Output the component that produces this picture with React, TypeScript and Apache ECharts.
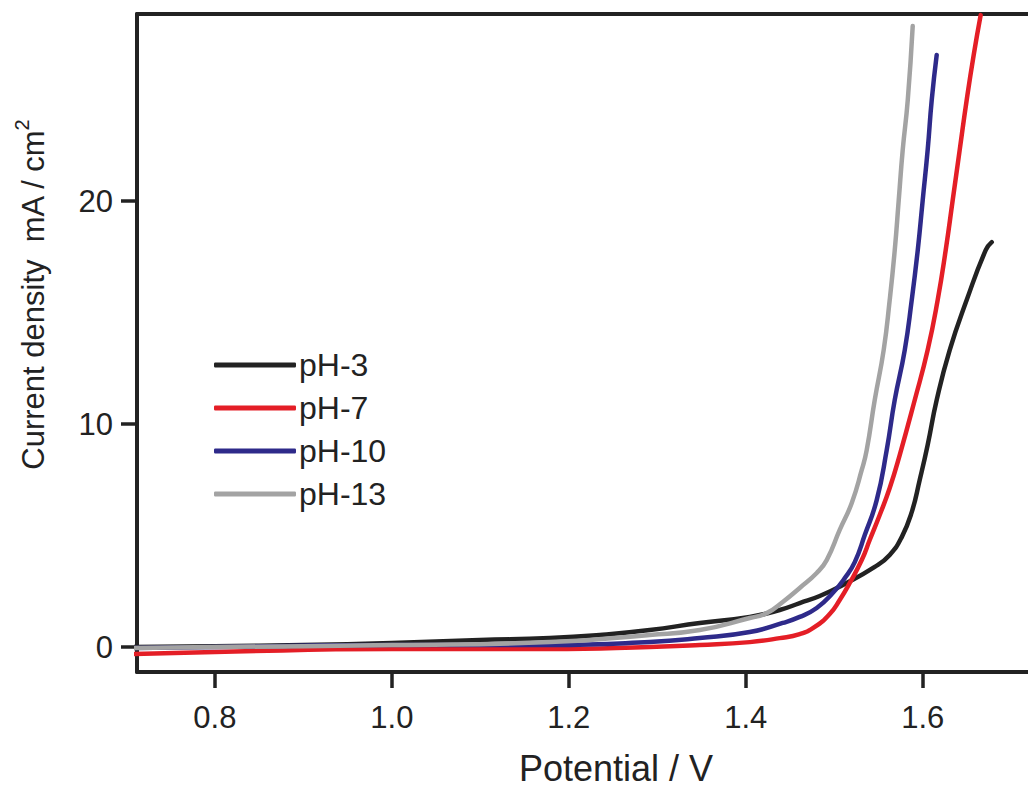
import React, { useEffect, useRef } from "react";
import * as echarts from "echarts";

const seriesNames = ["pH-3", "pH-7", "pH-10", "pH-13"];
const seriesColors = ["#222222", "#e41e26", "#2e2a8a", "#a3a3a3"];

const pH3V = [0.7073, 0.8, 0.8994, 1.0, 1.0994, 1.1785, 1.235, 1.2915, 1.348, 1.4045, 1.4384, 1.461, 1.4836, 1.5119, 1.5458, 1.5627, 1.5763, 1.5876, 1.5966, 1.6056, 1.6158, 1.6305, 1.6497, 1.6712, 1.678];
const pH3J = [0.0, 0.04, 0.09, 0.18, 0.31, 0.4, 0.54, 0.76, 1.08, 1.35, 1.66, 1.97, 2.29, 2.83, 3.59, 4.13, 4.93, 6.05, 7.49, 9.06, 11.08, 13.32, 15.56, 17.8, 18.16];

const pH7V = [0.7073, 0.8, 1.0, 1.1785, 1.2915, 1.348, 1.4045, 1.4384, 1.461, 1.478, 1.4949, 1.5062, 1.5175, 1.5311, 1.5401, 1.5514, 1.5627, 1.574, 1.591, 1.6056, 1.6169, 1.626, 1.6339, 1.6418, 1.6497, 1.6576, 1.6655];
const pH7J = [-0.31, -0.22, -0.09, -0.09, 0.0, 0.09, 0.22, 0.4, 0.58, 0.9, 1.48, 2.11, 2.87, 3.9, 4.8, 5.92, 7.13, 8.61, 11.08, 13.32, 15.56, 17.8, 20.04, 22.29, 24.53, 26.55, 28.34];

const pH10V = [0.7073, 0.8, 1.0, 1.1785, 1.2915, 1.348, 1.4045, 1.4418, 1.461, 1.4802, 1.4983, 1.5119, 1.5232, 1.5345, 1.548, 1.5593, 1.5684, 1.5797, 1.5876, 1.5944, 1.6, 1.6056, 1.6102, 1.6158];
const pH10J = [-0.04, 0.0, 0.09, 0.09, 0.22, 0.4, 0.67, 1.08, 1.35, 1.75, 2.42, 3.09, 3.81, 5.02, 6.59, 8.83, 11.08, 13.32, 15.56, 17.8, 20.04, 22.29, 24.53, 26.55];

const pH13V = [0.7073, 0.8, 1.0, 1.1785, 1.2915, 1.348, 1.4045, 1.4237, 1.4418, 1.461, 1.4802, 1.4915, 1.5062, 1.5198, 1.5311, 1.5367, 1.5458, 1.5559, 1.5627, 1.5684, 1.5729, 1.5774, 1.5831, 1.5887];
const pH13J = [-0.04, 0.0, 0.09, 0.22, 0.54, 0.76, 1.3, 1.52, 2.02, 2.65, 3.32, 3.9, 5.25, 6.46, 7.94, 8.83, 11.08, 13.32, 15.56, 17.8, 20.04, 22.29, 24.53, 27.85];

const xTicks = [0.8, 1.0, 1.2, 1.4, 1.6];
const yTicks = [0, 10, 20];

const xTitle = "Potential / V";
const yTitle = "Current density  mA / cm";
const yTitleSup = "2";

const allV = [pH3V, pH7V, pH10V, pH13V];
const allJ = [pH3J, pH7J, pH10J, pH13J];

const FONT = "'Liberation Sans', Arial, Helvetica, sans-serif";
const INK = "#222222";
const X_MIN = 0.712;
const X_MAX = 1.719;

export default function App() {
  const ref = useRef<HTMLDivElement>(null);
  useEffect(() => {
    if (!ref.current) return;
    const chart = echarts.init(ref.current, null, { renderer: "svg" });
    const series = seriesNames.map((name, i) => ({
      name,
      type: "line",
      xAxisIndex: 0,
      yAxisIndex: 0,
      data: allV[i].map((v, k) => [v, allJ[i][k]]),
      symbol: "none",
      smooth: 0.5,
      z: 2 + i,
      lineStyle: { color: seriesColors[i], width: 4.5, cap: "round", join: "round" },
      itemStyle: { color: seriesColors[i] },
    }));
    chart.setOption({
      animation: false,
      backgroundColor: "#ffffff",
      textStyle: { fontFamily: FONT },
      grid: {
        left: 137,
        right: 0,
        top: 14,
        bottom: 115,
        show: false,
      },
      xAxis: [
        {
          type: "value",
          position: "bottom",
          min: X_MIN,
          max: X_MAX,
          axisLine: { show: true, onZero: false, lineStyle: { color: INK, width: 4 } },
          axisTick: { show: true, inside: false, length: 16, lineStyle: { color: INK, width: 3.5 }, customValues: xTicks },
          axisLabel: {
            customValues: xTicks,
            formatter: (v: number) => v.toFixed(1),
            color: INK,
            fontSize: 31,
            fontFamily: FONT,
            margin: 30,
          },
          splitLine: { show: false },
        },
        {
          type: "value",
          position: "top",
          min: X_MIN,
          max: X_MAX,
          axisLine: { show: true, onZero: false, lineStyle: { color: INK, width: 4 } },
          axisTick: { show: false },
          axisLabel: { show: false },
          splitLine: { show: false },
        },
      ],
      yAxis: {
        type: "value",
        min: -1.12,
        max: 28.39,
        axisLine: { show: true, onZero: false, lineStyle: { color: INK, width: 4 } },
        axisTick: { show: true, inside: false, length: 16, lineStyle: { color: INK, width: 3.5 }, customValues: yTicks },
        axisLabel: {
          customValues: yTicks,
          formatter: (v: number) => String(Math.round(v)),
          color: INK,
          fontSize: 31,
          fontFamily: FONT,
          margin: 24,
        },
        splitLine: { show: false },
      },
      legend: {
        orient: "vertical",
        left: 209,
        top: 344,
        icon: "roundRect",
        itemWidth: 82,
        itemHeight: 5,
        itemGap: 11,
        data: seriesNames,
        textStyle: { fontSize: 32, color: INK, fontFamily: FONT, padding: [0, 0, 0, -2] },
      },
      graphic: [
        {
          type: "text",
          x: 616,
          y: 768,
          style: {
            text: xTitle,
            fill: INK,
            font: `36px ${FONT}`,
            textAlign: "center",
            textVerticalAlign: "middle",
          },
        },
        {
          type: "text",
          x: 33,
          y: 300,
          rotation: Math.PI / 2,
          style: {
            text: yTitle,
            fill: INK,
            font: `31px ${FONT}`,
            textAlign: "center",
            textVerticalAlign: "middle",
          },
        },
        {
          type: "text",
          x: 22,
          y: 125,
          rotation: Math.PI / 2,
          style: {
            text: yTitleSup,
            fill: INK,
            font: `20px ${FONT}`,
            textAlign: "center",
            textVerticalAlign: "middle",
          },
        },
      ],
      series,
    });
    return () => chart.dispose();
  }, []);
  return (
    <div
      ref={ref}
      style={{ position: "fixed", left: 0, top: 0, width: 1028, height: 787, background: "#fff" }}
    />
  );
}
